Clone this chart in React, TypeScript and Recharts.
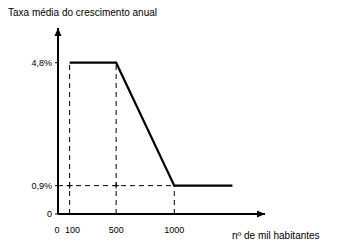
import { LineChart, Line, XAxis, YAxis, ReferenceLine, ReferenceDot } from 'recharts';

const habitantes = [100, 500, 1000, 1500];
const taxa = [4.8, 4.8, 0.9, 0.9];
const xTicks = [0, 100, 500, 1000];
const yTicks = [0, 0.9, 4.8];
const yTickLabels = ['0', '0,9%', '4,8%'];

const data = habitantes.map((x, i) => ({ x, y: taxa[i] }));

const font = '"Liberation Sans", Arial, sans-serif';
const X_MAX = 1780;
const Y_MAX = 5.9;

const ArrowRight = (props: any) => {
  const { cx, cy } = props;
  return <polygon points={`${cx},${cy} ${cx - 8},${cy - 3.5} ${cx - 8},${cy + 3.5}`} fill="#000" />;
};

const ArrowUp = (props: any) => {
  const { cx, cy } = props;
  return <polygon points={`${cx},${cy} ${cx - 3.5},${cy + 8} ${cx + 3.5},${cy + 8}`} fill="#000" />;
};

// small "+" marks where the dashed guide lines cross
const Cross = (props: any) => {
  const { cx, cy } = props;
  return (
    <g stroke="#000" strokeWidth={1}>
      <line x1={cx - 3} y1={cy} x2={cx + 3} y2={cy} />
      <line x1={cx} y1={cy - 3} x2={cx} y2={cy + 3} />
    </g>
  );
};

// "0" and "100" sit close together, nudge them apart a little like the original
const XTick = (props: any) => {
  const { x, y, payload } = props;
  const dx = payload.value === 100 ? 3 : payload.value === 0 ? -1 : 0;
  return (
    <text x={x + dx} y={y + 9} textAnchor="middle" fontSize={9} fill="#000" fontFamily={font}>
      {payload.value}
    </text>
  );
};

export default function App() {
  return (
    <div style={{ position: 'absolute', left: 0, top: 0, width: 339, height: 250, background: '#fff', fontFamily: font }}>
      <div style={{ position: 'absolute', left: 8, top: 7, fontSize: 10, color: '#000', whiteSpace: 'nowrap' }}>
        Taxa média do crescimento anual
      </div>
      <div style={{ position: 'absolute', left: 232, top: 230, fontSize: 10, color: '#000', whiteSpace: 'nowrap' }}>
        nº de mil habitantes
      </div>
      <LineChart width={339} height={250} data={data} margin={{ top: 28, right: 74, bottom: 0, left: 0 }}>
        <XAxis
          dataKey="x"
          type="number"
          domain={[0, X_MAX]}
          ticks={xTicks}
          interval={0}
          height={36}
          axisLine={{ stroke: '#000', strokeWidth: 2 }}
          tickLine={false}
          tickMargin={4}
          tick={<XTick />}
        />
        <YAxis
          type="number"
          domain={[0, Y_MAX]}
          ticks={yTicks}
          interval={0}
          width={58}
          axisLine={{ stroke: '#000', strokeWidth: 2 }}
          tickLine={{ stroke: '#000' }}
          tickSize={3}
          tickMargin={3}
          tickFormatter={(v: number) => yTickLabels[yTicks.indexOf(v)]}
          tick={{ fontSize: 9, fill: '#000', fontFamily: font }}
        />
        <ReferenceLine segment={[{ x: 100, y: 0 }, { x: 100, y: 4.8 }]} stroke="#000" strokeDasharray="5 4" />
        <ReferenceLine segment={[{ x: 500, y: 0 }, { x: 500, y: 4.8 }]} stroke="#000" strokeDasharray="5 4" />
        <ReferenceLine segment={[{ x: 1000, y: 0 }, { x: 1000, y: 0.9 }]} stroke="#000" strokeDasharray="5 4" />
        <ReferenceLine segment={[{ x: 0, y: 0.9 }, { x: 1000, y: 0.9 }]} stroke="#000" strokeDasharray="5 4" />
        <ReferenceDot x={100} y={0.9} ifOverflow="visible" shape={Cross} />
        <ReferenceDot x={500} y={0.9} ifOverflow="visible" shape={Cross} />
        <Line
          type="linear"
          dataKey="y"
          stroke="#000"
          strokeWidth={2.2}
          dot={false}
          isAnimationActive={false}
        />
        <ReferenceDot x={X_MAX} y={0} ifOverflow="visible" shape={ArrowRight} />
        <ReferenceDot x={0} y={Y_MAX} ifOverflow="visible" shape={ArrowUp} />
      </LineChart>
    </div>
  );
}
